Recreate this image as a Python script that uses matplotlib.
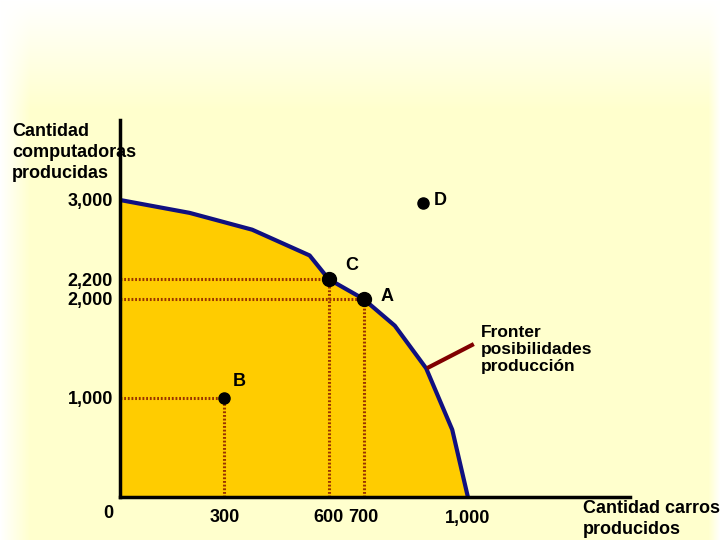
import matplotlib.pyplot as plt
import numpy as np

# frontera de posibilidades de produccion (carros, computadoras)
frontier_x = [0, 200, 380, 545, 600, 700, 790, 880, 955, 1000]
frontier_y = [3000, 2870, 2700, 2440, 2200, 2000, 1730, 1300, 680, 0]

point_names = ['A', 'B', 'C', 'D']
point_x = [700, 300, 600, 870]
point_y = [2000, 1000, 2200, 2970]

xtick_vals = [300, 600, 700, 1000]
xtick_labels = ['300', '600', '700', '1,000']
ytick_vals = [1000, 2000, 2200, 3000]
ytick_labels = ['1,000', '2,000', '2,200', '3,000']

plt.rcParams['font.family'] = ['Liberation Sans', 'DejaVu Sans']
plt.rcParams['font.weight'] = 'bold'

fig = plt.figure(figsize=(7.2, 5.4), dpi=100)

# soft background: white at the top/left edges fading into pale yellow
bg = fig.add_axes([0, 0, 1, 1])
h, w = 540, 720
yy, xx = np.mgrid[0:h, 0:w]
fade = np.clip(yy / 110.0, 0, 1) * np.clip(xx / 30.0, 0, 1) * np.clip((w - xx) / 12.0, 0, 1)
img = np.ones((h, w, 3))
img[..., 2] = 1 - fade * (1 - 205 / 255)
bg.imshow(img, aspect='auto', extent=[0, 1, 0, 1])
bg.axis('off')

ax = fig.add_axes([120 / 720, 43 / 540, 510 / 720, 377 / 540])
ax.patch.set_alpha(0)
ax.set_xlim(0, 1466)
ax.set_ylim(0, 3808)

ax.fill_between(frontier_x, frontier_y, 0, color='#FFCC00', zorder=1)
ax.plot(frontier_x, frontier_y, color='#101080', lw=3, zorder=3)

dot_color = '#993300'
for name, px, py in zip(point_names, point_x, point_y):
    if name == 'D':
        continue
    ax.plot([0, px], [py, py], color=dot_color, ls=(0, (0.6, 0.6)), lw=2.2, zorder=2)
    ax.plot([px, px], [0, py], color=dot_color, ls=(0, (0.6, 0.6)), lw=2.2, zorder=2)

sizes = {'A': 10, 'B': 8, 'C': 10, 'D': 8}
for name, px, py in zip(point_names, point_x, point_y):
    ax.plot(px, py, 'o', color='black', ms=sizes[name], zorder=4)

offsets = {'A': (12, 2), 'B': (6, 12), 'C': (12, 10), 'D': (8, 2)}
for name, px, py in zip(point_names, point_x, point_y):
    ax.annotate(name, (px, py), xytext=offsets[name], textcoords='offset points',
                fontsize=13, fontweight='bold', va='center', ha='left')

# leader line to the label
ax.plot([882, 1017], [1300, 1545], color='#800000', lw=3, solid_capstyle='butt', zorder=3)
ax.text(1037, 1490, 'Fronter\nposibilidades\nproducción', fontsize=12.5, fontweight='bold',
        va='center', ha='left', linespacing=1.2)

for side in ['top', 'right']:
    ax.spines[side].set_visible(False)
ax.spines['left'].set_linewidth(2.5)
ax.spines['bottom'].set_linewidth(2.5)
ax.spines['left'].set_zorder(5)
ax.spines['bottom'].set_zorder(5)

ax.set_xticks(xtick_vals, xtick_labels)
ax.set_yticks(ytick_vals, ytick_labels)
ax.tick_params(length=0, labelsize=13)
ax.tick_params(axis='x', pad=9)
ax.tick_params(axis='y', pad=5)
for lbl in ax.get_xticklabels() + ax.get_yticklabels():
    lbl.set_fontweight('bold')

fig.text(108 / 720, 1 - 513 / 540, '0', fontsize=13, fontweight='bold', ha='center', va='center')
fig.text(12 / 720, 1 - 123 / 540, 'Cantidad\ncomputadoras\nproducidas', fontsize=13,
         fontweight='bold', ha='left', va='top', linespacing=1.3)
fig.text(583 / 720, 1 - 519 / 540, 'Cantidad carros\nproducidos', fontsize=13,
         fontweight='bold', ha='left', va='center', linespacing=1.35)

fig.savefig('out.png', dpi=100)
